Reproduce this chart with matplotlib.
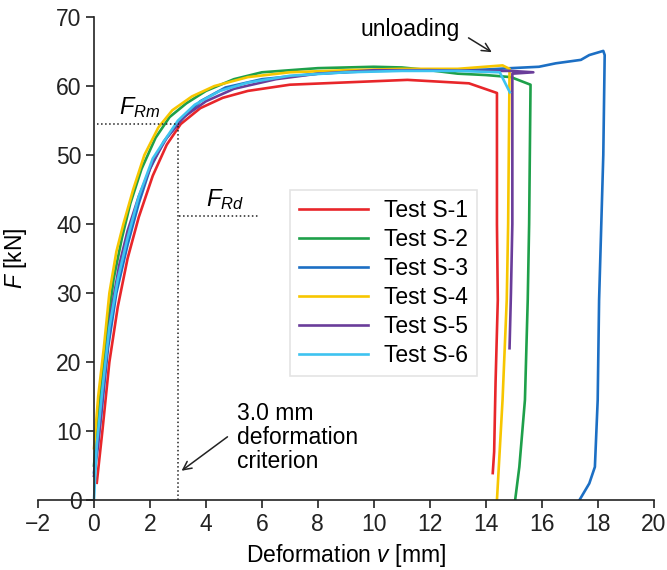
import matplotlib
matplotlib.use("Agg")
import matplotlib.pyplot as plt

plt.rcParams['font.family'] = ['Liberation Sans', 'DejaVu Sans']
plt.rcParams['mathtext.fontset'] = 'custom'
plt.rcParams['mathtext.rm'] = 'Liberation Sans'
plt.rcParams['mathtext.it'] = 'Liberation Sans:italic'

labels = ["Test S-1", "Test S-2", "Test S-3", "Test S-4", "Test S-5", "Test S-6"]
colors = ["#e8262a", "#1ea04a", "#1c6fc4", "#f7c600", "#6a3d9a", "#3ec3f0"]

s1_x = [0.1, 0.3, 0.55, 0.85, 1.2, 1.6, 2.1, 2.6, 3.1, 3.8, 4.6, 5.5, 7, 8.8, 11.2, 13.4, 14.4, 14.4, 14.43, 14.35, 14.3, 14.25]
s1_y = [2.5, 10, 20, 28, 35, 41, 47, 51.5, 54.5, 56.8, 58.3, 59.3, 60.2, 60.5, 60.9, 60.4, 59, 40, 29, 17, 7, 3.9]

s2_x = [0, 0.2, 0.45, 0.7, 1.0, 1.3, 1.7, 2.2, 2.7, 3.3, 4, 5, 6, 8, 10, 11, 12, 13, 14, 14.9, 15.6, 15.55, 15.5, 15.4, 15.2, 15.05]
s2_y = [5, 14, 24, 32, 38, 43, 48, 52.5, 55.5, 57.5, 59.3, 61, 62, 62.6, 62.8, 62.7, 62.3, 61.8, 61.6, 61.3, 60.2, 40, 29, 14.5, 4.8, 0]

s3_x = [0, 0.25, 0.5, 0.8, 1.2, 1.6, 2.0, 2.5, 3.1, 3.8, 4.7, 6, 8, 10, 12, 14, 14.9, 15.9, 16.5, 17.4, 17.7, 18.2, 18.25, 18.2, 18.1, 18.05, 18.0, 17.9, 17.7, 17.35]
s3_y = [4, 12, 22, 30, 37, 43, 48, 52, 55, 57.8, 59.8, 61, 61.8, 62.2, 62.3, 62.4, 62.6, 62.8, 63.3, 63.8, 64.5, 65.1, 64.5, 50, 36, 29, 14.5, 4.8, 2.4, 0]

s4_x = [0, 0.15, 0.35, 0.55, 0.8, 1.05, 1.4, 1.8, 2.3, 2.8, 3.5, 4.3, 5.5, 7, 9, 11, 13, 14.6, 14.85, 14.8, 14.75, 14.6, 14.4]
s4_y = [7.5, 15, 22, 30, 36, 40, 45, 50, 54, 56.5, 58.5, 60, 61.3, 62, 62.3, 62.5, 62.5, 63, 62.5, 40, 29, 14.5, 0]

s5_x = [0, 0.15, 0.35, 0.6, 0.9, 1.2, 1.6, 2.1, 2.6, 3.2, 4, 5, 6.5, 8, 10, 12, 14, 14.9, 15.7, 14.95, 14.95, 14.9, 14.85]
s5_y = [3.5, 8, 17, 27, 34, 39, 44, 49, 52.5, 55.5, 57.8, 59.6, 61, 61.8, 62.3, 62.3, 62.2, 62.2, 62.0, 61.8, 40, 30, 22]

s6_x = [0, 0.1, 0.3, 0.55, 0.85, 1.2, 1.6, 2.1, 2.5, 3.0, 3.6, 4.5, 5.5, 7, 9, 11, 13, 14.5, 14.86]
s6_y = [0, 8, 16, 25, 32, 38, 44, 49.5, 52, 55, 57.3, 59.3, 60.5, 61.5, 62, 62.2, 62.2, 62.0, 59.1]

series = [(s1_x, s1_y), (s2_x, s2_y), (s3_x, s3_y), (s4_x, s4_y), (s5_x, s5_y), (s6_x, s6_y)]

x_ticks = list(range(-2, 21, 2))
y_ticks = list(range(0, 71, 10))

FS = 16.5

fig = plt.figure(figsize=(6.67, 5.7), dpi=100)
ax = fig.add_axes([0.057, 0.1228, 0.923, 0.8472])

for (xs, ys), c, lab in zip(series, colors, labels):
    ax.plot(xs, ys, color=c, lw=1.9, label=lab, solid_joinstyle='round')

ax.set_xlim(-2, 20)
ax.set_ylim(0, 70)
ax.set_xticks(x_ticks)
ax.set_yticks(y_ticks)
ax.set_xticklabels(["\u22122" if t < 0 else str(t) for t in x_ticks])
ax.spines['left'].set_position(('data', 0))
ax.spines['top'].set_visible(False)
ax.spines['right'].set_visible(False)
for s in ['left', 'bottom']:
    ax.spines[s].set_linewidth(1.2)
    ax.spines[s].set_color('#222222')
ax.tick_params(direction='out', length=6, width=1.2, labelsize=FS, colors='#222222')
ax.tick_params(axis='x', pad=3)
ax.tick_params(axis='y', pad=3)

ax.set_xlabel(r"Deformation $\mathit{v}$ [mm]", fontsize=FS, labelpad=5)
ax.set_ylabel(r"$\mathit{F}$ [kN]", fontsize=FS)
ax.yaxis.set_label_coords(-0.014, 0.5)

# annotations
ax.plot([0.1, 3.05], [54.5, 54.5], ls=':', color='#222222', lw=1.1)
ax.plot([3.0, 3.0], [0, 54.5], ls=':', color='#222222', lw=1.1)
ax.plot([3.05, 5.9], [41.2, 41.2], ls=':', color='#222222', lw=1.1)
ax.text(0.9, 55.1, r"$\mathit{F}_{\mathit{Rm}}$", fontsize=17, ha='left', va='bottom')
ax.text(4.0, 41.8, r"$\mathit{F}_{\mathit{Rd}}$", fontsize=17, ha='left', va='bottom')

ax.text(5.1, 9.1, "3.0 mm\ndeformation\ncriterion", fontsize=FS, ha='left', va='center', linespacing=1.05)
ax.annotate("", xy=(3.05, 4.0), xytext=(4.85, 9.4),
            arrowprops=dict(arrowstyle='->', color='#222222', lw=1.1, mutation_scale=15))
ax.text(11.3, 68.2, "unloading", fontsize=FS, ha='center', va='center')
ax.annotate("", xy=(14.3, 64.7), xytext=(13.3, 67.2),
            arrowprops=dict(arrowstyle='->', color='#222222', lw=1.1, mutation_scale=15))

leg = ax.legend(loc='upper left', bbox_to_anchor=(0.409, 0.642), fontsize=FS,
                frameon=True, fancybox=False, edgecolor='#dddddd', handlelength=3.0,
                borderpad=0.4, labelspacing=0.26, handletextpad=0.7, borderaxespad=0)
leg.get_frame().set_linewidth(1.2)

fig.savefig("out.png", dpi=100)
